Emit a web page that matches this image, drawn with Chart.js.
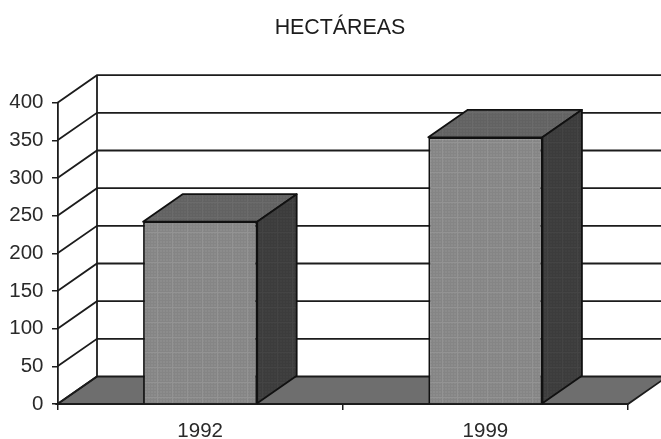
<!DOCTYPE html>
<html>
<head>
<meta charset="utf-8">
<style>
html,body{margin:0;padding:0;background:#fff;overflow:hidden}
canvas{display:block;filter:blur(0.45px)}
</style>
<script src="https://cdn.jsdelivr.net/npm/chart.js@4"></script>
</head>
<body>
<canvas id="c" width="661" height="439"></canvas>
<script>
const titleText = 'HECTÁREAS';
const categories = ['1992', '1999'];
const hectares = [242, 354];
const axisMin = 0;
const axisMax = 400;
const axisStep = 50;

const depthX = 39.5;
const depthY = -27.5;
const lineColor = '#1c1c1c';

function texture(base, fine, wide) {
  const t = document.createElement('canvas');
  t.width = 15; t.height = 15;
  const g = t.getContext('2d');
  g.fillStyle = base; g.fillRect(0, 0, 15, 15);
  g.fillStyle = fine;
  for (let i = 0; i < 15; i += 3) { g.fillRect(i, 0, 1, 15); g.fillRect(0, i, 15, 1); }
  g.fillStyle = wide;
  g.fillRect(7, 0, 1, 15); g.fillRect(0, 7, 15, 1);
  return g.createPattern(t, 'repeat');
}
const ctxMain = document.getElementById('c').getContext('2d');
const frontFill = texture('#8c8c8c', '#858585', '#939393');
const topFill = texture('#676767', '#626262', '#6b6b6b');
const sideFill = texture('#404040', '#3c3c3c', '#444444');

function poly(ctx, pts, fill) {
  ctx.beginPath();
  pts.forEach((p, i) => i ? ctx.lineTo(p[0], p[1]) : ctx.moveTo(p[0], p[1]));
  ctx.closePath();
  if (fill) { ctx.fillStyle = fill; ctx.fill(); }
  ctx.stroke();
}

const box3d = {
  id: 'box3d',
  afterLayout(chart) {
    chart.scales.y.left = 0;
  },
  beforeDatasetsDraw(chart) {
    const { ctx, chartArea: a, scales: { y } } = chart;
    ctx.save();
    ctx.strokeStyle = lineColor;
    ctx.lineWidth = 1.8;
    poly(ctx, [[a.left, a.bottom], [a.left + depthX, a.bottom + depthY],
               [a.right + depthX, a.bottom + depthY], [a.right, a.bottom]], '#6e6e6e');
    y.ticks.forEach(t => {
      const py = y.getPixelForValue(t.value);
      ctx.beginPath();
      ctx.moveTo(a.left, py);
      ctx.lineTo(a.left + depthX, py + depthY);
      if (t.value > axisMin) ctx.lineTo(a.right + depthX, py + depthY);
      ctx.stroke();
    });
    ctx.beginPath();
    ctx.moveTo(a.left + depthX, y.getPixelForValue(axisMax) + depthY);
    ctx.lineTo(a.left + depthX, a.bottom + depthY);
    ctx.stroke();
    ctx.restore();
  },
  afterDatasetsDraw(chart) {
    const { ctx } = chart;
    ctx.save();
    ctx.strokeStyle = '#111';
    ctx.lineWidth = 1.8;
    ctx.lineJoin = 'round';
    chart.getDatasetMeta(0).data.forEach(bar => {
      const l = bar.x - bar.width / 2, r = bar.x + bar.width / 2;
      const t = bar.y, b = bar.base;
      poly(ctx, [[l, t], [l + depthX, t + depthY], [r + depthX, t + depthY], [r, t]], topFill);
      poly(ctx, [[r, t], [r + depthX, t + depthY], [r + depthX, b + depthY], [r, b]], sideFill);
    });
    ctx.restore();
  }
};

new Chart(ctxMain, {
  type: 'bar',
  data: {
    labels: categories,
    datasets: [{
      data: hectares,
      backgroundColor: frontFill,
      borderColor: '#111',
      borderWidth: 1.8,
      barPercentage: 0.4,
      categoryPercentage: 1
    }]
  },
  plugins: [box3d],
  options: {
    responsive: false,
    animation: false,
    events: [],
    layout: { padding: { left: 52, right: 33, top: 0, bottom: 0 } },
    plugins: {
      legend: { display: false },
      tooltip: { enabled: false },
      title: {
        display: true,
        text: titleText,
        color: '#1c1c1c',
        font: { family: '"Liberation Sans"', size: 21.4, weight: 'normal' },
        padding: { top: 15, bottom: 62 }
      }
    },
    scales: {
      x: {
        grid: { display: true, offset: true, drawOnChartArea: false, drawTicks: true, tickLength: 6, color: lineColor, lineWidth: 1.5 },
        border: { display: true, color: lineColor, width: 1.8 },
        ticks: { color: '#2a2a2a', padding: 9, maxRotation: 0, font: { family: '"Liberation Sans"', size: 20.5 } },
        afterFit(s) { s.height = 35; }
      },
      y: {
        min: axisMin,
        max: axisMax,
        grid: { display: true, drawOnChartArea: false, drawTicks: true, tickLength: 5.5, color: lineColor, lineWidth: 1.5 },
        border: { display: true, color: lineColor, width: 1.8 },
        ticks: { stepSize: axisStep, color: '#2a2a2a', padding: 8.5, font: { family: '"Liberation Sans"', size: 20.5 } },
        afterFit(s) { s.width = 5.5; }
      }
    }
  }
});
</script>
</body>
</html>
